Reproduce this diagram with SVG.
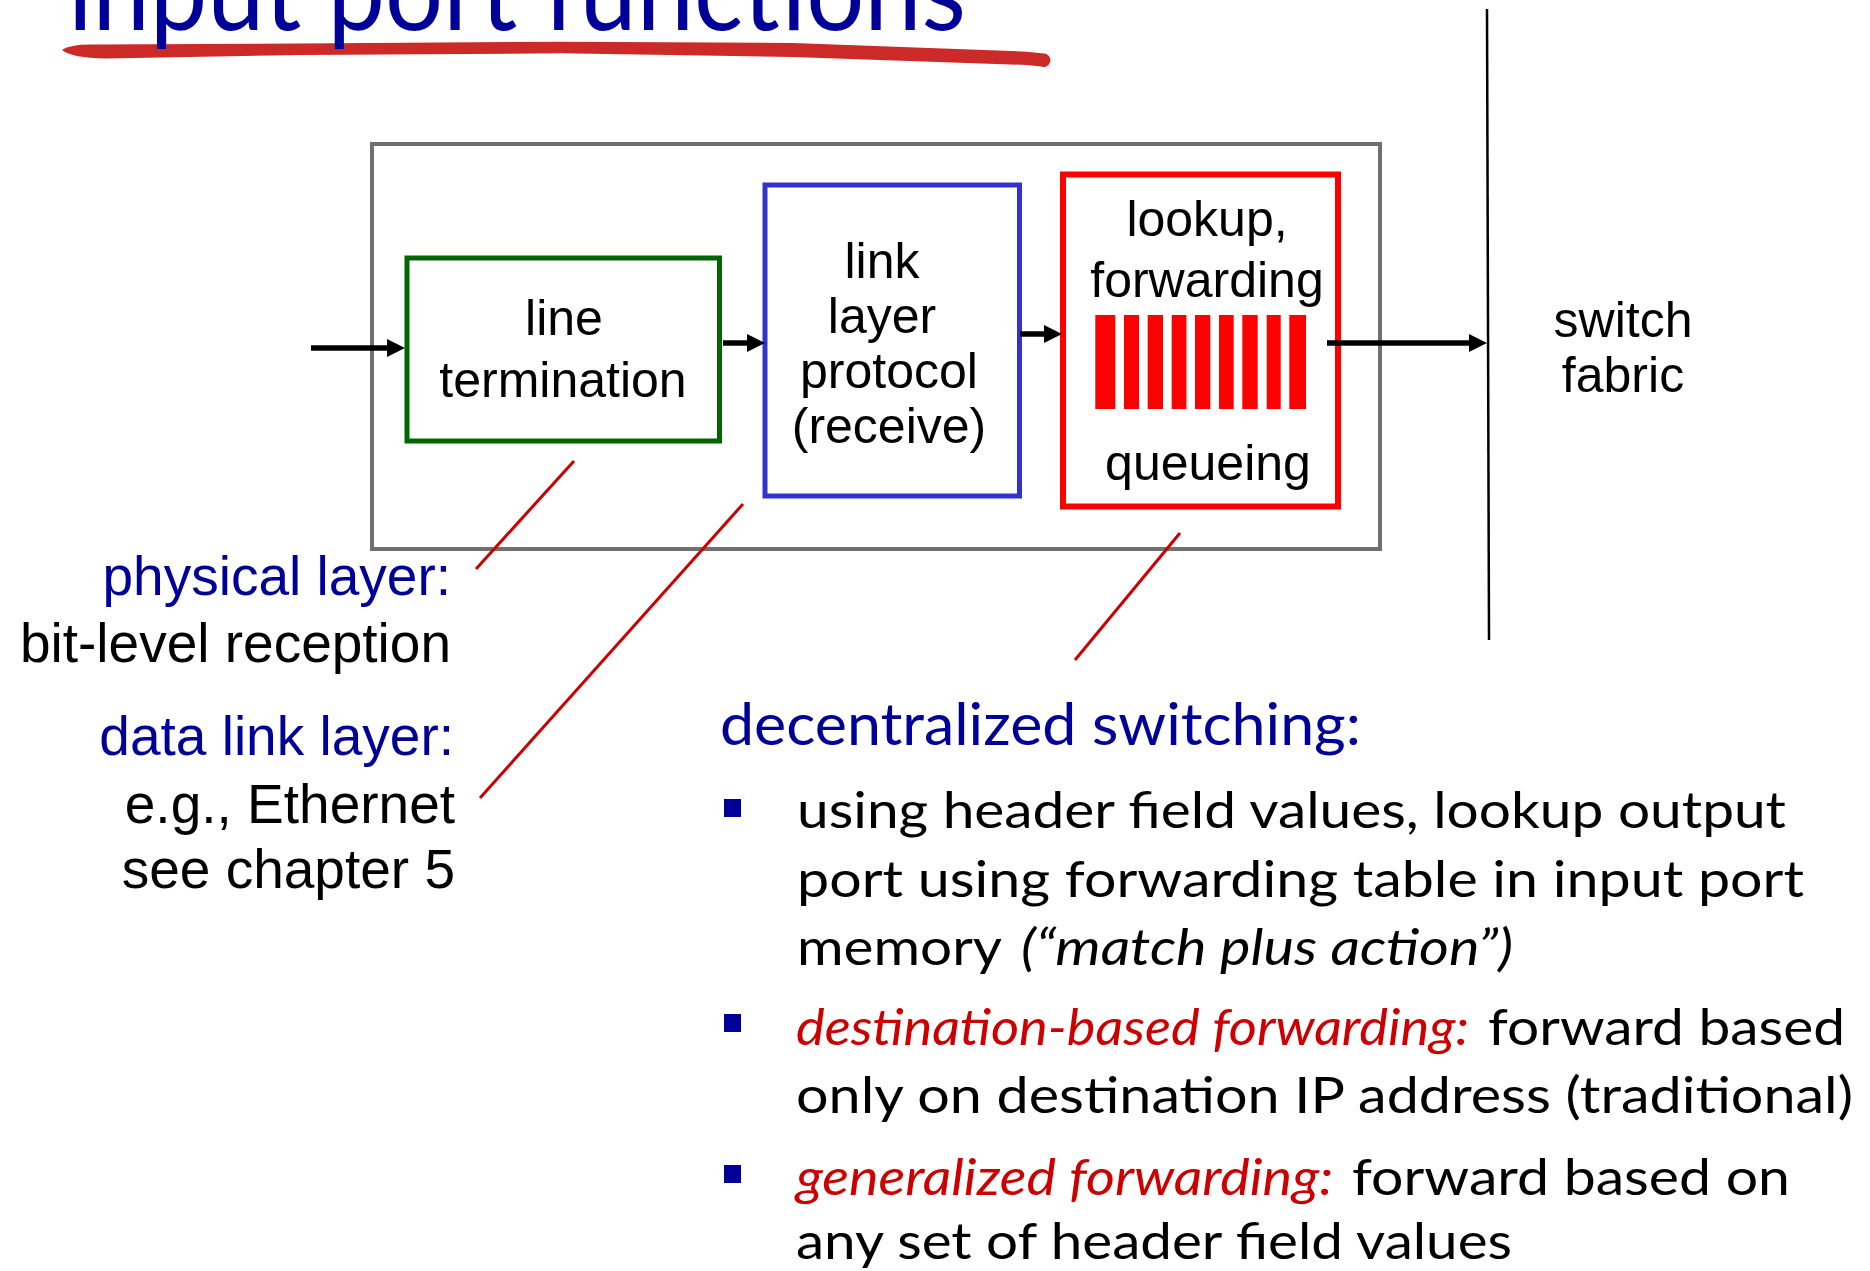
<svg xmlns="http://www.w3.org/2000/svg" width="1870" height="1271" viewBox="0 0 1870 1271">
  <defs>
    <style>
      .box { fill: none; }
      .lbl { font-family: "Liberation Sans", Arial, sans-serif; font-size: 50px; fill: #000; text-anchor: middle; }
      .side { font-family: "Liberation Sans", Arial, sans-serif; font-size: 55px; text-anchor: end; }
      .blue { fill: #000099; }
      .black { fill: #000; }
      .body { font-family: Lato, "Open Sans", sans-serif; font-size: 50px; fill: #000; }
      .em { font-style: italic; }
      .red { fill: #cc0000; }
      .pointer { stroke: #cc0000; stroke-width: 3; fill: none; }
      .flow { stroke: #000; stroke-width: 5.5; fill: none; marker-end: url(#head); }
      .bullet { fill: #000099; }
      .bar { fill: #ff0000; }
    </style>
    <marker id="head" markerUnits="userSpaceOnUse" markerWidth="20" markerHeight="20" refX="6" refY="9" orient="auto">
      <path d="M0,0 L18,9 L0,18 z" fill="#000"/>
    </marker>
  </defs>

  <rect width="1870" height="1271" fill="#fff"/>

  <!-- title with brush-stroke underline -->
  <g id="title">
    <path d="M62,50 Q70,44 95,44.5 L300,43.5 L560,41.7 L793,43 L1027,51.7 L1046,53.8 A6.5,6.5 0 0 1 1041,66.6 L1027,65 L793,57 L560,53.3 L300,55 L106,58.5 Q72,58 62,50 Z" fill="#cc2929"/>
    <text x="68" y="30" font-family="Lato, 'Open Sans', sans-serif" font-size="110" fill="#000099" textLength="898" lengthAdjust="spacingAndGlyphs">input port functions</text>
  </g>

  <!-- input port enclosure -->
  <g id="input-port">
    <rect class="box" x="372" y="144" width="1008" height="405" stroke="#707070" stroke-width="4"/>
  </g>

  <g id="line-termination">
    <rect class="box" x="407" y="258" width="312.5" height="183" stroke="#006600" stroke-width="5"/>
    <text class="lbl" x="564" y="335">line</text>
    <text class="lbl" x="563" y="397">termination</text>
  </g>

  <g id="link-layer">
    <rect class="box" x="765" y="185" width="254.5" height="311" stroke="#3333cc" stroke-width="5"/>
    <text class="lbl" x="882" y="278">link</text>
    <text class="lbl" x="882" y="333">layer</text>
    <text class="lbl" x="889" y="388">protocol</text>
    <text class="lbl" x="889" y="443">(receive)</text>
  </g>

  <g id="lookup-queueing">
    <rect class="box" x="1063" y="174.5" width="275" height="332" stroke="#ff0000" stroke-width="6"/>
    <text class="lbl" x="1207" y="236">lookup,</text>
    <text class="lbl" x="1207" y="297">forwarding</text>
    <!-- queue of packets -->
    <rect class="bar" x="1095.3" y="315" width="20" height="94"/>
    <rect class="bar" x="1124" y="315" width="15" height="94"/>
    <rect class="bar" x="1147.7" y="315" width="15.3" height="94"/>
    <rect class="bar" x="1171.7" y="315" width="14.7" height="94"/>
    <rect class="bar" x="1195" y="315" width="15.3" height="94"/>
    <rect class="bar" x="1219" y="315" width="14.7" height="94"/>
    <rect class="bar" x="1242.3" y="315" width="15.4" height="94"/>
    <rect class="bar" x="1266.7" y="315" width="14" height="94"/>
    <rect class="bar" x="1289.3" y="315" width="16.7" height="94"/>
    <text class="lbl" x="1208" y="480">queueing</text>
  </g>

  <g id="switch-fabric">
    <line x1="1487" y1="9" x2="1489" y2="640" stroke="#000" stroke-width="2.5"/>
    <text class="lbl" x="1623" y="337" font-size="49">switch</text>
    <text class="lbl" x="1623" y="392" font-size="49">fabric</text>
  </g>

  <!-- datagram path and callout lines -->
  <g id="connectors">
    <line class="flow" x1="311" y1="348" x2="393" y2="348"/>
    <line class="flow" x1="723" y1="343" x2="753" y2="343"/>
    <line class="flow" x1="1020" y1="334" x2="1050" y2="334"/>
    <line class="flow" x1="1327" y1="343" x2="1475" y2="343"/>
    <line class="pointer" x1="574" y1="461" x2="476" y2="569"/>
    <line class="pointer" x1="743" y1="504" x2="480" y2="798"/>
    <line class="pointer" x1="1180" y1="533" x2="1075" y2="660"/>
  </g>

  <g id="physical-note">
    <text class="side blue" x="451" y="595">physical layer:</text>
    <text class="side black" x="451" y="662">bit-level reception</text>
  </g>

  <g id="link-note">
    <text class="side blue" x="454" y="755">data link layer:</text>
    <text class="side black" x="455" y="823">e.g., Ethernet</text>
    <text class="side black" x="455" y="888">see chapter 5</text>
  </g>

  <g id="switching-notes">
    <text x="720" y="745" font-family="Lato, 'Open Sans', sans-serif" font-size="59" fill="#000099" textLength="641" lengthAdjust="spacingAndGlyphs">decentralized switching:</text>

    <rect class="bullet" x="724" y="799" width="17" height="18"/>
    <text class="body" x="797" y="828" textLength="989" lengthAdjust="spacingAndGlyphs">using header field values, lookup output</text>
    <text class="body" x="797" y="897" textLength="1007" lengthAdjust="spacingAndGlyphs">port using forwarding table in input port</text>
    <text class="body" x="797" y="965" textLength="205" lengthAdjust="spacingAndGlyphs">memory</text>
    <text class="body em" x="1021" y="965" textLength="492" lengthAdjust="spacingAndGlyphs">(“match plus action”)</text>

    <rect class="bullet" x="724" y="1014" width="17" height="18"/>
    <text class="body em red" x="796" y="1045" textLength="673" lengthAdjust="spacingAndGlyphs">destination-based forwarding:</text>
    <text class="body" x="1488" y="1045" textLength="357" lengthAdjust="spacingAndGlyphs">forward based</text>
    <text class="body" x="796" y="1113" textLength="1057" lengthAdjust="spacingAndGlyphs">only on destination IP address (traditional)</text>

    <rect class="bullet" x="724" y="1165" width="17" height="18"/>
    <text class="body em red" x="796" y="1195" textLength="537" lengthAdjust="spacingAndGlyphs">generalized forwarding:</text>
    <text class="body" x="1352" y="1195" textLength="438" lengthAdjust="spacingAndGlyphs">forward based on</text>
    <text class="body" x="796" y="1259" textLength="716" lengthAdjust="spacingAndGlyphs">any set of header field values</text>
  </g>
</svg>
